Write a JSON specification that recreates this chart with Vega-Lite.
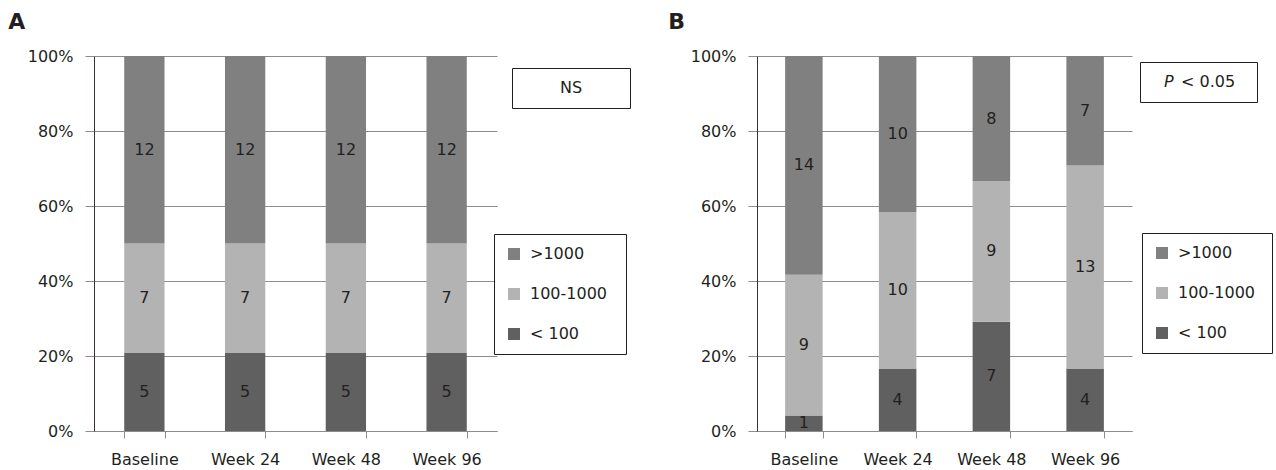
{
  "$schema": "https://vega.github.io/schema/vega-lite/v6.json",
  "background": "white",
  "padding": {"left": 8, "top": 11, "right": 0, "bottom": 0},
  "spacing": 37,
  "config": {
    "font": "DejaVu Sans",
    "view": {"stroke": null},
    "title": {"font": "DejaVu Sans", "fontSize": 22, "fontWeight": "bold", "color": "#231f20", "anchor": "start"},
    "axis": {"labelFont": "DejaVu Sans", "labelFontSize": 16, "labelColor": "#231f20", "title": null},
    "legend": {"labelFont": "DejaVu Sans", "labelFontSize": 16, "labelColor": "#231f20", "titleFont": "DejaVu Sans", "titleFontSize": 16, "titleColor": "#231f20", "titleFontWeight": "normal"}
  },
  "datasets": {
    "a": [
      {"time": "Baseline", "group": "< 100", "rank": 1, "count": 5},
      {"time": "Baseline", "group": "100-1000", "rank": 2, "count": 7},
      {"time": "Baseline", "group": ">1000", "rank": 3, "count": 12},
      {"time": "Week 24", "group": "< 100", "rank": 1, "count": 5},
      {"time": "Week 24", "group": "100-1000", "rank": 2, "count": 7},
      {"time": "Week 24", "group": ">1000", "rank": 3, "count": 12},
      {"time": "Week 48", "group": "< 100", "rank": 1, "count": 5},
      {"time": "Week 48", "group": "100-1000", "rank": 2, "count": 7},
      {"time": "Week 48", "group": ">1000", "rank": 3, "count": 12},
      {"time": "Week 96", "group": "< 100", "rank": 1, "count": 5},
      {"time": "Week 96", "group": "100-1000", "rank": 2, "count": 7},
      {"time": "Week 96", "group": ">1000", "rank": 3, "count": 12}
    ],
    "b": [
      {"time": "Baseline", "group": "< 100", "rank": 1, "count": 1},
      {"time": "Baseline", "group": "100-1000", "rank": 2, "count": 9},
      {"time": "Baseline", "group": ">1000", "rank": 3, "count": 14},
      {"time": "Week 24", "group": "< 100", "rank": 1, "count": 4},
      {"time": "Week 24", "group": "100-1000", "rank": 2, "count": 10},
      {"time": "Week 24", "group": ">1000", "rank": 3, "count": 10},
      {"time": "Week 48", "group": "< 100", "rank": 1, "count": 7},
      {"time": "Week 48", "group": "100-1000", "rank": 2, "count": 9},
      {"time": "Week 48", "group": ">1000", "rank": 3, "count": 8},
      {"time": "Week 96", "group": "< 100", "rank": 1, "count": 4},
      {"time": "Week 96", "group": "100-1000", "rank": 2, "count": 13},
      {"time": "Week 96", "group": ">1000", "rank": 3, "count": 7}
    ],
    "noteA": [{"note": "NS"}],
    "noteB": [{"stat": "P", "note": "< 0.05"}]
  },
  "resolve": {"scale": {"color": "independent", "shape": "independent", "fill": "independent", "x": "independent", "y": "independent"}},
  "hconcat": [
    {
      "title": {"text": "A", "dx": -19, "offset": 14},
      "width": 403,
      "height": 375,
      "layer": [
        {
          "data": {"name": "a"},
          "mark": {"type": "bar"},
          "encoding": {
            "x": {"field": "time", "type": "nominal", "sort": ["Baseline", "Week 24", "Week 48", "Week 96"],
                  "scale": {"paddingInner": 0.6, "paddingOuter": 0.3},
                  "axis": {"labelAngle": 0, "tickBand": "extent", "tickSize": 7, "labelPadding": 13, "domainColor": "#8c8c8c", "tickColor": "#8c8c8c", "grid": false}},
            "y": {"field": "count", "type": "quantitative", "stack": "normalize",
                  "axis": {"format": "%", "values": [0, 0.2, 0.4, 0.6, 0.8, 1], "grid": true, "gridColor": "#8c8c8c", "tickColor": "#8c8c8c", "domainColor": "#3b3134", "tickSize": 9, "labelPadding": 12}},
            "color": {"field": "group", "type": "nominal",
                      "scale": {"domain": [">1000", "100-1000", "< 100"], "range": ["#808080", "#b3b3b3", "#606060"]},
                      "legend": {"orient": "none", "legendX": 400, "legendY": 178, "title": " ", "titleOrient": "right", "titlePadding": 7,
                                 "strokeColor": "#231f20", "fillColor": "white", "padding": 12, "symbolType": "square", "symbolSize": 144,
                                 "symbolStrokeWidth": 0, "labelOffset": 8, "rowPadding": 24}},
            "order": {"field": "rank", "type": "quantitative"}
          }
        },
        {
          "data": {"name": "a"},
          "mark": {"type": "text", "fontSize": 16, "color": "#231f20", "baseline": "middle"},
          "encoding": {
            "x": {"field": "time", "type": "nominal", "sort": ["Baseline", "Week 24", "Week 48", "Week 96"]},
            "y": {"field": "count", "type": "quantitative", "stack": "normalize", "bandPosition": 0.5},
            "text": {"field": "count", "type": "quantitative"},
            "order": {"field": "rank", "type": "quantitative"}
          }
        },
        {
          "data": {"name": "noteA"},
          "mark": {"type": "point", "opacity": 0},
          "encoding": {
            "shape": {"field": "note", "type": "nominal",
                      "legend": {"orient": "none", "legendX": 418, "legendY": 12, "title": " ", "titleOrient": "right", "titlePadding": 36,
                                 "strokeColor": "#231f20", "fillColor": "white", "padding": 12, "symbolSize": 0, "symbolOpacity": 0,
                                 "symbolStrokeWidth": 0, "labelOffset": 20}}
          }
        }
      ]
    },
    {
      "title": {"text": "B", "dx": -22, "offset": 14},
      "width": 375,
      "height": 375,
      "layer": [
        {
          "data": {"name": "b"},
          "mark": {"type": "bar"},
          "encoding": {
            "x": {"field": "time", "type": "nominal", "sort": ["Baseline", "Week 24", "Week 48", "Week 96"],
                  "scale": {"paddingInner": 0.6, "paddingOuter": 0.3},
                  "axis": {"labelAngle": 0, "tickBand": "extent", "tickSize": 7, "labelPadding": 13, "domainColor": "#8c8c8c", "tickColor": "#8c8c8c", "grid": false}},
            "y": {"field": "count", "type": "quantitative", "stack": "normalize",
                  "axis": {"format": "%", "values": [0, 0.2, 0.4, 0.6, 0.8, 1], "grid": true, "gridColor": "#8c8c8c", "tickColor": "#8c8c8c", "domainColor": "#3b3134", "tickSize": 9, "labelPadding": 12}},
            "color": {"field": "group", "type": "nominal",
                      "scale": {"domain": [">1000", "100-1000", "< 100"], "range": ["#808080", "#b3b3b3", "#606060"]},
                      "legend": {"orient": "none", "legendX": 385, "legendY": 177, "title": " ", "titleOrient": "right", "titlePadding": 5,
                                 "strokeColor": "#231f20", "fillColor": "white", "padding": 12, "symbolType": "square", "symbolSize": 144,
                                 "symbolStrokeWidth": 0, "labelOffset": 8, "rowPadding": 24}},
            "order": {"field": "rank", "type": "quantitative"}
          }
        },
        {
          "data": {"name": "b"},
          "mark": {"type": "text", "fontSize": 16, "color": "#231f20", "baseline": "middle"},
          "encoding": {
            "x": {"field": "time", "type": "nominal", "sort": ["Baseline", "Week 24", "Week 48", "Week 96"]},
            "y": {"field": "count", "type": "quantitative", "stack": "normalize", "bandPosition": 0.5},
            "text": {"field": "count", "type": "quantitative"},
            "order": {"field": "rank", "type": "quantitative"}
          }
        },
        {
          "data": {"name": "noteB"},
          "mark": {"type": "point", "opacity": 0},
          "encoding": {
            "shape": {"field": "note", "type": "nominal",
                      "legend": {"orient": "none", "legendX": 383, "legendY": 6, "title": " ", "titleOrient": "right", "titlePadding": 10,
                                 "strokeColor": "#231f20", "padding": 12, "symbolSize": 0, "symbolOpacity": 0,
                                 "symbolStrokeWidth": 0, "labelOffset": 13}},
            "fill": {"field": "stat", "type": "nominal",
                     "legend": {"orient": "none", "legendX": 391, "legendY": 18, "title": null, "padding": 0,
                                "symbolSize": 0, "symbolOpacity": 0, "symbolStrokeWidth": 0, "labelOffset": 0, "labelFontStyle": "italic"}}
          }
        }
      ]
    }
  ]
}
